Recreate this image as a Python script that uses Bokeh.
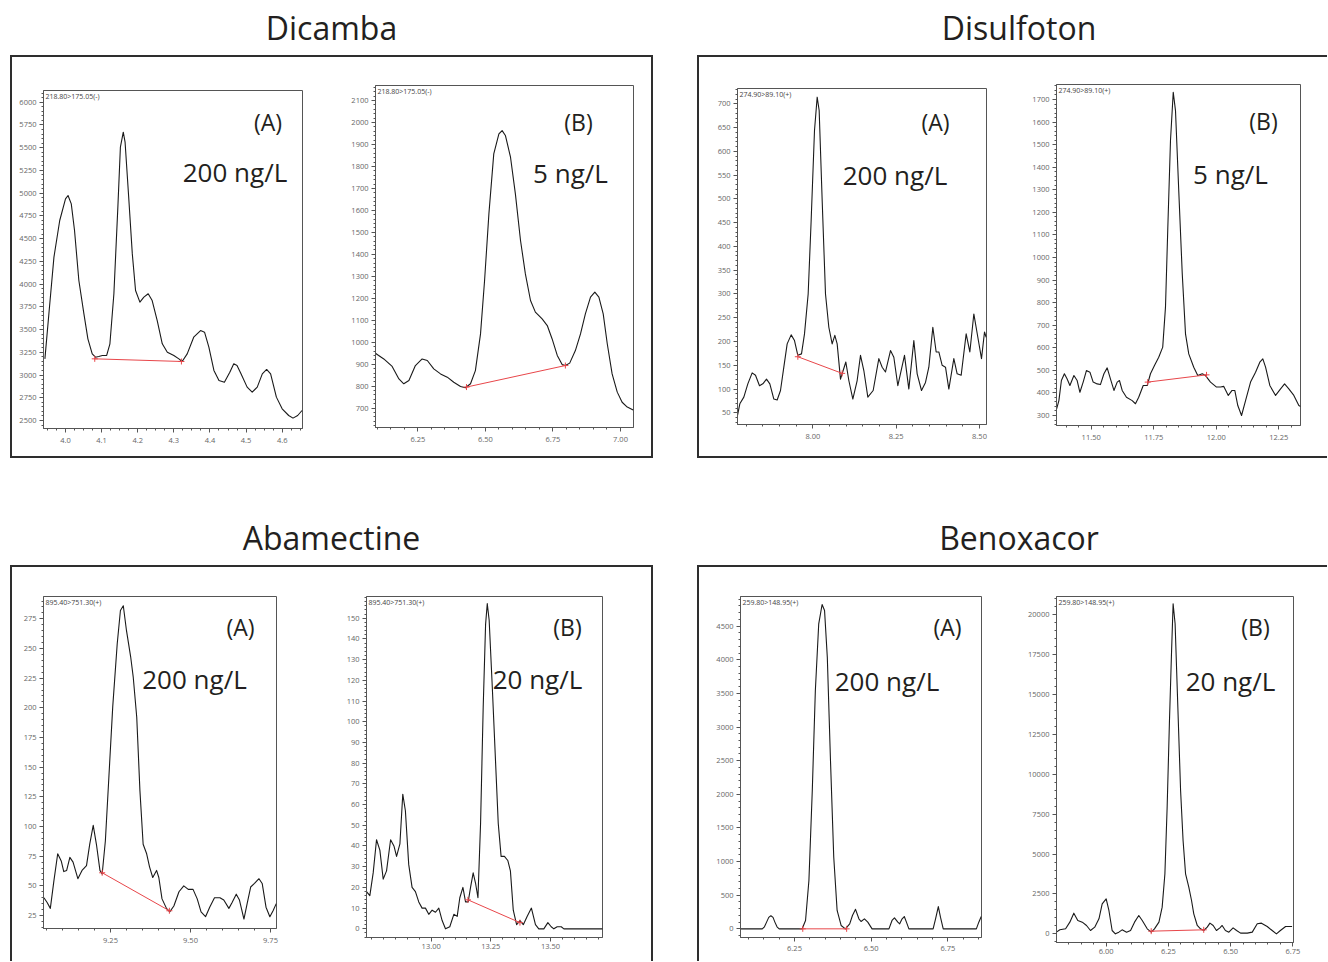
import numpy as np
from bokeh.plotting import figure
from bokeh.layouts import row, column
from bokeh.models import Div, Label, FixedTicker, NumeralTickFormatter, Spacer, Range1d
from bokeh.embed import file_html
from bokeh.resources import INLINE

# ---------------- DATA ----------------
compounds = ["Dicamba", "Disulfoton", "Abamectine", "Benoxacor"]
transitions = ["218.80>175.05(-)", "274.90>89.10(+)", "895.40>751.30(+)", "259.80>148.95(+)"]
concentrations_a = ["200 ng/L", "200 ng/L", "200 ng/L", "200 ng/L"]
concentrations_b = ["5 ng/L", "5 ng/L", "20 ng/L", "20 ng/L"]

dicamba_a_t = [3.943,3.954,3.968,3.984,4.000,4.007,4.016,4.025,4.037,4.051,4.062,4.074,4.083,4.092,4.102,4.114,4.123,4.134,4.145,4.152,4.160,4.165,4.175,4.185,4.194,4.206,4.217,4.229,4.240,4.254,4.268,4.282,4.300,4.314,4.323,4.337,4.355,4.374,4.385,4.397,4.411,4.425,4.440,4.455,4.466,4.475,4.486,4.503,4.517,4.531,4.545,4.557,4.568,4.584,4.600,4.618,4.630,4.643,4.655]
dicamba_a_v = [3178,3673,4296,4699,4937,4974,4882,4589,4039,3673,3398,3233,3196,3204,3215,3215,3343,3893,4846,5505,5670,5560,4955,4332,3929,3801,3856,3893,3819,3599,3343,3251,3215,3178,3149,3233,3416,3489,3471,3306,3050,2940,2921,3031,3123,3105,3013,2867,2811,2867,3013,3061,3013,2757,2628,2555,2526,2555,2610]
dicamba_a_base_t = [4.081, 4.321]
dicamba_a_base_v = [3178, 3149]

dicamba_b_t = [6.093,6.124,6.155,6.180,6.198,6.217,6.241,6.266,6.285,6.309,6.334,6.359,6.383,6.408,6.426,6.445,6.463,6.482,6.497,6.513,6.531,6.550,6.562,6.574,6.593,6.611,6.630,6.648,6.667,6.685,6.710,6.729,6.747,6.766,6.784,6.796,6.812,6.833,6.852,6.870,6.889,6.905,6.920,6.936,6.951,6.969,6.988,7.006,7.025,7.047]
dicamba_b_v = [950,924,890,833,811,826,894,924,917,879,856,841,818,799,793,811,871,1038,1281,1584,1857,1948,1963,1941,1842,1675,1463,1311,1190,1137,1106,1076,1015,940,899,894,905,962,1038,1129,1205,1228,1205,1129,993,856,773,727,705,692]
dicamba_b_base_t = [6.430, 6.796]
dicamba_b_base_v = [796, 894]

disulfoton_a_t = [7.773,7.781,7.793,7.805,7.818,7.828,7.840,7.850,7.861,7.871,7.883,7.893,7.903,7.913,7.923,7.935,7.945,7.955,7.966,7.975,7.986,7.995,8.005,8.013,8.019,8.028,8.038,8.048,8.058,8.066,8.073,8.083,8.091,8.099,8.108,8.120,8.133,8.143,8.153,8.165,8.181,8.198,8.208,8.218,8.233,8.243,8.255,8.275,8.288,8.303,8.313,8.326,8.338,8.348,8.360,8.370,8.378,8.388,8.398,8.408,8.423,8.433,8.445,8.460,8.471,8.483,8.495,8.506,8.515,8.520]
disulfoton_a_v = [41,69,83,111,134,129,107,111,121,111,79,77,97,146,195,214,202,171,174,216,300,455,644,714,686,497,300,230,195,213,195,121,139,157,118,79,118,171,139,83,97,164,146,136,181,167,107,171,100,202,132,97,114,146,230,178,178,150,146,100,164,132,129,216,178,258,209,164,220,209]
disulfoton_a_base_t = [7.955, 8.088]
disulfoton_a_base_v = [168, 133]

disulfoton_b_t = [11.360,11.371,11.381,11.393,11.404,11.415,11.431,11.444,11.455,11.468,11.481,11.495,11.508,11.524,11.537,11.551,11.564,11.577,11.591,11.604,11.613,11.624,11.641,11.664,11.677,11.690,11.708,11.724,11.737,11.753,11.770,11.786,11.797,11.806,11.817,11.828,11.837,11.850,11.864,11.877,11.890,11.910,11.926,11.944,11.957,11.977,12.001,12.017,12.030,12.048,12.063,12.074,12.086,12.101,12.117,12.137,12.157,12.174,12.186,12.197,12.214,12.237,12.257,12.273,12.290,12.310,12.330,12.337]
disulfoton_b_v = [322,366,455,485,462,433,477,455,403,448,499,492,448,440,437,485,511,462,411,448,455,411,381,366,352,381,433,433,485,522,558,603,780,1120,1518,1732,1651,1297,928,662,573,514,477,485,477,448,426,426,429,389,411,411,344,300,366,448,492,536,551,514,433,389,418,440,418,389,344,340]
disulfoton_b_base_t = [11.726, 11.961]
disulfoton_b_base_v = [448, 480]

abamectine_a_t = [9.042,9.052,9.062,9.073,9.085,9.096,9.104,9.113,9.123,9.133,9.148,9.161,9.175,9.185,9.196,9.206,9.217,9.224,9.234,9.245,9.257,9.271,9.281,9.290,9.300,9.313,9.321,9.332,9.342,9.352,9.363,9.372,9.382,9.394,9.401,9.411,9.425,9.435,9.448,9.464,9.479,9.493,9.508,9.521,9.533,9.547,9.560,9.575,9.592,9.604,9.620,9.630,9.643,9.653,9.667,9.677,9.688,9.700,9.714,9.724,9.736,9.748,9.758,9.768]
abamectine_a_v = [40,36,31,54,77,71,62,63,74,70,56,63,67,85,101,85,63,60,88,142,201,254,282,286,265,243,226,192,130,85,77,66,57,63,57,39,31,28,33,45,50,47,47,39,28,24,32,40,40,38,31,36,43,38,22,35,49,52,56,52,32,24,29,35]
abamectine_a_base_t = [9.224, 9.434]
abamectine_a_base_v = [61, 29]

abamectine_b_t = [12.729,12.743,12.757,12.771,12.785,12.799,12.813,12.830,12.844,12.855,12.869,12.881,12.892,12.906,12.920,12.934,12.948,12.962,12.976,12.990,13.004,13.018,13.032,13.046,13.060,13.078,13.095,13.109,13.120,13.133,13.144,13.155,13.165,13.176,13.186,13.196,13.207,13.218,13.228,13.235,13.243,13.256,13.270,13.281,13.293,13.307,13.321,13.332,13.344,13.358,13.372,13.386,13.402,13.420,13.437,13.451,13.472,13.489,13.503,13.514,13.528,13.545,13.556,13.719]
abamectine_b_v = [18,16,27,43,38,24,28,43,40,35,41,65,57,31,20,18,13,10,10,7,9,8,10,4,0,1,7,6,15,20,13,13,20,27,22,15,51,107,147,157,149,117,80,51,35,35,33,28,9,2,4,2,6,10,2,0,0,3,1,0,1,1,0,0]
abamectine_b_base_t = [13.154, 13.372]
abamectine_b_base_v = [14, 3]

benoxacor_a_t = [6.074,6.145,6.152,6.159,6.166,6.173,6.180,6.186,6.193,6.200,6.275,6.286,6.297,6.308,6.318,6.329,6.340,6.348,6.357,6.367,6.378,6.389,6.402,6.416,6.430,6.439,6.449,6.460,6.467,6.478,6.489,6.503,6.558,6.568,6.576,6.587,6.593,6.601,6.608,6.615,6.623,6.702,6.710,6.719,6.726,6.735,6.843,6.851,6.859]
benoxacor_a_v = [0,0,30,100,170,195,170,100,30,0,0,124,719,2057,3544,4535,4822,4733,4039,2552,1065,273,50,0,74,198,290,149,109,149,99,0,0,124,164,99,74,149,183,99,0,0,149,330,173,0,0,99,183]
benoxacor_a_base_t = [6.277, 6.420]
benoxacor_a_base_v = [0, 0]

benoxacor_b_t = [5.800,5.814,5.837,5.854,5.870,5.886,5.904,5.921,5.937,5.954,5.971,5.984,6.000,6.011,6.024,6.037,6.051,6.064,6.082,6.098,6.114,6.131,6.145,6.165,6.181,6.194,6.212,6.225,6.236,6.245,6.254,6.262,6.269,6.277,6.288,6.299,6.309,6.319,6.332,6.343,6.352,6.366,6.379,6.392,6.406,6.417,6.430,6.443,6.457,6.466,6.479,6.493,6.510,6.524,6.540,6.567,6.587,6.607,6.624,6.647,6.667,6.684,6.700,6.721,6.747]
benoxacor_b_v = [105,251,314,732,1296,836,732,523,209,418,941,1881,2195,1463,209,0,105,251,105,209,732,1150,836,314,105,314,732,1672,3762,7942,13167,17347,20691,19437,14212,8987,5852,3762,2926,2090,1254,523,314,209,418,669,523,209,376,523,209,105,376,209,42,42,105,627,669,460,209,0,209,460,460]
benoxacor_b_base_t = [6.181, 6.392]
benoxacor_b_base_v = [167, 251]

# tick labels
dicamba_a_xticks = [4.0, 4.1, 4.2, 4.3, 4.4, 4.5, 4.6]
dicamba_a_yticks = [2500, 2750, 3000, 3250, 3500, 3750, 4000, 4250, 4500, 4750, 5000, 5250, 5500, 5750, 6000]
dicamba_b_xticks = [6.25, 6.50, 6.75, 7.00]
dicamba_b_yticks = [700, 800, 900, 1000, 1100, 1200, 1300, 1400, 1500, 1600, 1700, 1800, 1900, 2000, 2100]
disulfoton_a_xticks = [8.00, 8.25, 8.50]
disulfoton_a_yticks = [50, 100, 150, 200, 250, 300, 350, 400, 450, 500, 550, 600, 650, 700]
disulfoton_b_xticks = [11.50, 11.75, 12.00, 12.25]
disulfoton_b_yticks = [300, 400, 500, 600, 700, 800, 900, 1000, 1100, 1200, 1300, 1400, 1500, 1600, 1700]
abamectine_a_xticks = [9.25, 9.50, 9.75]
abamectine_a_yticks = [25, 50, 75, 100, 125, 150, 175, 200, 225, 250, 275]
abamectine_b_xticks = [13.00, 13.25, 13.50]
abamectine_b_yticks = [0, 10, 20, 30, 40, 50, 60, 70, 80, 90, 100, 110, 120, 130, 140, 150]
benoxacor_a_xticks = [6.25, 6.50, 6.75]
benoxacor_a_yticks = [0, 500, 1000, 1500, 2000, 2500, 3000, 3500, 4000, 4500]
benoxacor_b_xticks = [6.00, 6.25, 6.50, 6.75]
benoxacor_b_yticks = [0, 2500, 5000, 7500, 10000, 12500, 15000, 17500, 20000]

# ---------------- STYLE / LAYOUT ----------------
FONT = "Open Sans"
INK = "#231f20"
RED = "#e8464a"
AXC = "#555555"
BOX = "#2e2e2e"


def minor_list(major, ndiv, lo, hi):
    step = (major[1] - major[0]) / ndiv
    k0 = int(np.floor((lo - major[0]) / step)) - 1
    k1 = int(np.ceil((hi - major[0]) / step)) + 1
    return [major[0] + k * step for k in range(k0, k1 + 1)]


def panel(t, v, bt, bv, xticks, yticks, xfmt, xdiv, origin, size, frame, xcal, ycal,
          letter, letter_pos, conc, conc_pos, mrm, xstand=5):
    ox, oy = origin
    w, h = size
    fl, ft, fr, fb = frame
    (xv1, xp1), (xv2, xp2) = xcal
    (yv1, yp1), (yv2, yp2) = ycal
    sx = (xp2 - xp1) / (xv2 - xv1)
    sy = (yp2 - yp1) / (yv2 - yv1)
    x0 = xv1 + (fl - xp1) / sx
    x1 = xv1 + (fr - xp1) / sx
    y0 = yv1 + (fb - yp1) / sy
    y1 = yv1 + (ft - yp1) / sy

    def to_data(px, py):
        return xv1 + (px - xp1) / sx, yv1 + (py - yp1) / sy

    p = figure(width=w, height=h, x_range=Range1d(x0, x1), y_range=Range1d(y0, y1),
               min_border_left=fl - ox, min_border_right=ox + w - fr,
               min_border_top=ft - oy, min_border_bottom=oy + h - fb,
               output_backend="svg", toolbar_location=None, tools="")
    try:
        p.frame_align = False
    except Exception:
        pass
    p.xgrid.visible = False
    p.ygrid.visible = False
    p.outline_line_color = AXC
    p.outline_line_width = 1
    p.background_fill_color = "white"
    p.border_fill_color = "white"

    p.xaxis.ticker = FixedTicker(ticks=xticks, minor_ticks=minor_list(xticks, xdiv, x0, x1))
    p.yaxis.ticker = FixedTicker(ticks=yticks, minor_ticks=minor_list(yticks, 5, y0, y1))
    p.xaxis.formatter = NumeralTickFormatter(format=xfmt)
    p.yaxis.formatter = NumeralTickFormatter(format="0")
    for ax in (p.xaxis[0], p.yaxis[0]):
        ax.axis_line_color = AXC
        ax.major_tick_line_color = AXC
        ax.minor_tick_line_color = AXC
        ax.major_tick_in = 0
        ax.major_tick_out = 4
        ax.minor_tick_in = 0
        ax.minor_tick_out = 2
        ax.major_label_text_font = FONT
        ax.major_label_text_font_size = "7.5px"
        ax.major_label_text_color = "#666666"
    p.yaxis.major_label_standoff = 3
    p.xaxis.major_label_standoff = xstand

    p.line(t, v, line_color="#1a1a1a", line_width=1.1, line_join="round")
    p.line(bt, bv, line_color=RED, line_width=1)
    p.scatter(bt, bv, marker="cross", size=6, line_color=RED, line_width=1)

    p.add_layout(Label(x=x0, y=y1, x_offset=2, y_offset=-1, text=mrm, text_font=FONT,
                       text_font_size="7px", text_color="#444444",
                       text_align="left", text_baseline="top"))
    lx, ly = to_data(*letter_pos)
    p.add_layout(Label(x=lx, y=ly, text=letter, text_font=FONT, text_font_size="23px",
                       text_color=INK, text_align="center", text_baseline="middle"))
    cx, cy = to_data(*conc_pos)
    p.add_layout(Label(x=cx, y=cy, text=conc, text_font=FONT, text_font_size="26px",
                       text_color=INK, text_align="center", text_baseline="middle"))
    return p


# page geometry (pixels from the page's top-left corner)
p1a = panel(dicamba_a_t, dicamba_a_v, dicamba_a_base_t, dicamba_a_base_v,
            dicamba_a_xticks, dicamba_a_yticks, "0.0", 4,
            (12, 57), (308, 399), (43, 90, 302, 428),
            ((4.0, 65.0), (4.6, 281.67)), ((6000, 101.67), (2500, 420.0)),
            "(A)", (267.5, 121), concentrations_a[0], (234.5, 171.5), transitions[0])
p1b = panel(dicamba_b_t, dicamba_b_v, dicamba_b_base_t, dicamba_b_base_v,
            dicamba_b_xticks, dicamba_b_yticks, "0.00", 5,
            (320, 57), (331, 399), (375, 85, 633, 427),
            ((6.25, 417.33), (7.0, 620.0)), ((2100, 100.0), (700, 407.67)),
            "(B)", (578, 121), concentrations_b[0], (570, 172.5), transitions[0])
p2a = panel(disulfoton_a_t, disulfoton_a_v, disulfoton_a_base_t, disulfoton_a_base_v,
            disulfoton_a_xticks, disulfoton_a_yticks, "0.00", 5,
            (699, 57), (321, 399), (737, 88, 986, 424),
            ((8.0, 812.33), (8.5, 979.0)), ((700, 103.33), (50, 412.33)),
            "(A)", (935, 121.5), concentrations_a[1], (894.5, 174.5), transitions[1])
p2b = panel(disulfoton_b_t, disulfoton_b_v, disulfoton_b_base_t, disulfoton_b_base_v,
            disulfoton_b_xticks, disulfoton_b_yticks, "0.00", 5,
            (1020, 57), (307, 399), (1056, 84, 1300, 425),
            ((11.5, 1090.67), (12.25, 1278.33)), ((1700, 99.0), (300, 415.0)),
            "(B)", (1263, 120.5), concentrations_b[1], (1230, 173.5), transitions[1])
p3a = panel(abamectine_a_t, abamectine_a_v, abamectine_a_base_t, abamectine_a_base_v,
            abamectine_a_xticks, abamectine_a_yticks, "0.00", 5,
            (12, 567), (308, 394), (43, 596, 276, 928),
            ((9.25, 110.0), (9.75, 270.0)), ((275, 618.33), (25, 915.0)),
            "(A)", (240, 626.5), concentrations_a[2], (194, 678.5), transitions[2])
p3b = panel(abamectine_b_t, abamectine_b_v, abamectine_b_base_t, abamectine_b_base_v,
            abamectine_b_xticks, abamectine_b_yticks, "0.00", 5,
            (320, 567), (331, 394), (366, 596, 602, 937),
            ((13.0, 430.67), (13.5, 550.0)), ((150, 617.67), (0, 928.33)),
            "(B)", (567, 626.5), concentrations_b[2], (537, 678.5), transitions[2], xstand=2)
p4a = panel(benoxacor_a_t, benoxacor_a_v, benoxacor_a_base_t, benoxacor_a_base_v,
            benoxacor_a_xticks, benoxacor_a_yticks, "0.00", 5,
            (699, 567), (321, 394), (740, 596, 981, 937),
            ((6.25, 794.0), (6.75, 947.33)), ((4500, 625.67), (0, 928.33)),
            "(A)", (947, 626.5), concentrations_a[3], (886.5, 680.5), transitions[3], xstand=4)
p4b = panel(benoxacor_b_t, benoxacor_b_v, benoxacor_b_base_t, benoxacor_b_base_v,
            benoxacor_b_xticks, benoxacor_b_yticks, "0.00", 5,
            (1020, 567), (307, 394), (1056, 596, 1293, 942),
            ((6.0, 1105.67), (6.75, 1292.33)), ((20000, 614.33), (0, 933.33)),
            "(B)", (1255, 626.5), concentrations_b[3], (1230, 680.5), transitions[3], xstand=2)


def hline(w):
    return Div(text="", width=w, height=2, margin=0, styles={"background-color": BOX})


def vline(hh):
    return Div(text="", width=2, height=hh, margin=0, styles={"background-color": BOX})


def title_div(text, w, shift):
    html = ('<div style="display:block;width:%dpx;font-family:\'Open Sans\',sans-serif;font-size:32px;'
            'line-height:39px;color:%s;text-align:center;position:relative;left:%dpx;'
            'white-space:nowrap;">%s</div>' % (w, INK, shift, text))
    return Div(text=html, width=w, height=47, margin=0,
               styles={"text-align": "center", "overflow": "visible"})


g1 = column(title_div(compounds[0], 643, 0), hline(643),
            row(vline(399), p1a, p1b, vline(399)), hline(643))
g2 = column(title_div(compounds[1], 630, 7), hline(630),
            row(vline(399), p2a, p2b), hline(630))
g3 = column(title_div(compounds[2], 643, 0), hline(643),
            row(vline(394), p3a, p3b, vline(394)))
g4 = column(title_div(compounds[3], 630, 7), hline(630),
            row(vline(394), p4a, p4b))

layout = column(
    Spacer(width=10, height=8),
    row(Spacer(width=10, height=450), g1, Spacer(width=44, height=450), g2),
    Spacer(width=10, height=60),
    row(Spacer(width=10, height=443), g3, Spacer(width=44, height=443), g4),
)

open("out.html", "w").write(file_html(layout, INLINE, title="Chromatograms"))
